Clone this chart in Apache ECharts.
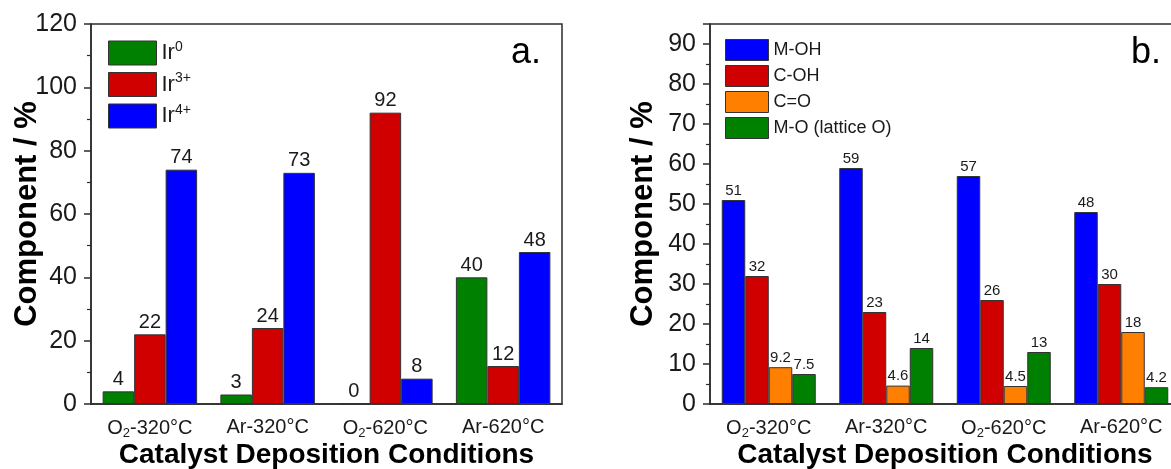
<!DOCTYPE html>
<html><head><meta charset="utf-8">
<script src="https://cdn.jsdelivr.net/npm/echarts@6/dist/echarts.min.js"></script>
<style>html,body{margin:0;padding:0;background:#fff}#c{width:1171px;height:469px}</style>
</head><body><div id="c"></div>
<script>
// ---- data ----
const categories = ['O2-320°C', 'Ar-320°C', 'O2-620°C', 'Ar-620°C'];
const irNames = ['Ir0', 'Ir3+', 'Ir4+'];
const ir0 = [4, 3, 0, 40];
const ir3 = [22, 24, 92, 12];
const ir4 = [74, 73, 8, 48];
const oNames = ['M-OH', 'C-OH', 'C=O', 'M-O (lattice O)'];
const mOH = [51, 59, 57, 48];
const cOH = [32, 23, 26, 30];
const cEqO = [9.2, 4.6, 4.5, 18];
const mO = [7.5, 14, 13, 4.2];
const yTicksA = [0, 20, 40, 60, 80, 100, 120];
const yTicksB = [0, 10, 20, 30, 40, 50, 60, 70, 80, 90];
const yMaxB = 95;
const xTitle = 'Catalyst Deposition Conditions';
const yTitle = 'Component / %';

// ---- styling ----
const FF = '"Liberation Sans", Arial, sans-serif';
const TXT = '#1a1a1a';
const AX = '#2b2b2b';
const cGreen = '#008000', cRed = '#D00000', cBlue = '#0000FF', cOrange = '#FF8000';

const catFmt = v => v.replace('O2', 'O{sub|2}');
const legFmt = n => n.replace(/^Ir(.+)$/, 'Ir{sup|$1}');

function yAxis(gi, ticks, max, gap) {
  return {
    type: 'value', gridIndex: gi, min: ticks[0], max: max,
    interval: ticks[1] - ticks[0],
    axisLine: { show: true, lineStyle: { color: AX, width: 1.5 } },
    axisTick: { show: true, inside: false, length: 7, lineStyle: { color: AX, width: 1.5 } },
    minorTick: { show: true, splitNumber: 2, length: 4, lineStyle: { color: AX, width: 1.2 } },
    splitLine: { show: false },
    axisLabel: {
      fontSize: 25, color: TXT, fontFamily: FF, margin: 14,
      formatter: v => (ticks.indexOf(v) >= 0 ? String(v) : '')
    },
    name: yTitle, nameLocation: 'middle', nameGap: gap, nameMoveOverlap: false,
    nameTextStyle: { fontSize: 31, fontWeight: 'bold', color: '#000', fontFamily: FF }
  };
}
function xAxis(gi) {
  return {
    type: 'category', gridIndex: gi, data: categories,
    axisLine: { show: true, lineStyle: { color: AX, width: 1.5 } },
    axisTick: { show: false },
    axisLabel: {
      interval: 0,
      fontSize: 20, color: TXT, fontFamily: FF, margin: 13,
      formatter: catFmt,
      rich: { sub: { fontSize: 13, color: TXT, fontFamily: FF, padding: [10, 0, 0, 0] } }
    },
    name: xTitle, nameLocation: 'middle', nameGap: 37, nameMoveOverlap: false,
    nameTextStyle: { fontSize: 28, fontWeight: 'bold', color: '#000', fontFamily: FF }
  };
}
function bar(name, data, color, gi, bw, fs) {
  return {
    type: 'bar', name: name, data: data, xAxisIndex: gi, yAxisIndex: gi,
    barWidth: bw, barGap: '0%',
    itemStyle: { color: color, borderColor: '#333', borderWidth: 1 },
    label: { show: true, position: 'top', distance: 2, fontSize: fs, color: TXT, fontFamily: FF },
    emphasis: { disabled: true }
  };
}

const option = {
  animation: false,
  backgroundColor: '#fff',
  grid: [
    { left: 91, top: 24, width: 471, height: 380, outerBoundsMode: 'none', containLabel: false, show: true, borderColor: AX, borderWidth: 1.5, backgroundColor: 'transparent' },
    { left: 710, top: 24, width: 470, height: 380, outerBoundsMode: 'none', containLabel: false, show: true, borderColor: AX, borderWidth: 1.5, backgroundColor: 'transparent' }
  ],
  xAxis: [xAxis(0), xAxis(1)],
  yAxis: [yAxis(0, yTicksA, yTicksA[yTicksA.length - 1], 48), yAxis(1, yTicksB, yMaxB, 51)],
  legend: [
    {
      data: irNames, left: 103, top: 35, orient: 'vertical',
      itemWidth: 48, itemHeight: 24, itemGap: 6, itemStyle: { borderColor: '#333', borderWidth: 1 },
      icon: 'rect', formatter: legFmt,
      textStyle: { fontSize: 22, color: TXT, fontFamily: FF,
        rich: { sup: { fontSize: 14, color: TXT, fontFamily: FF, padding: [0, 0, 12, 0] } } }
    },
    {
      data: oNames, left: 720, top: 34, orient: 'vertical',
      itemWidth: 43, itemHeight: 21, itemGap: 4, itemStyle: { borderColor: '#333', borderWidth: 1 },
      icon: 'rect',
      textStyle: { fontSize: 18, color: TXT, fontFamily: FF }
    }
  ],
  graphic: [
    { type: 'text', left: 511, top: 35, style: { text: 'a.', fontSize: 36, fill: '#000', fontFamily: FF } },
    { type: 'text', left: 1131, top: 35, style: { text: 'b.', fontSize: 36, fill: '#000', fontFamily: FF } }
  ],
  series: [
    bar(irNames[0], ir0, cGreen, 0, 31.5, 20),
    bar(irNames[1], ir3, cRed, 0, 31.5, 20),
    bar(irNames[2], ir4, cBlue, 0, 31.5, 20),
    bar(oNames[0], mOH, cBlue, 1, 23.5, 15),
    bar(oNames[1], cOH, cRed, 1, 23.5, 15),
    bar(oNames[2], cEqO, cOrange, 1, 23.5, 15),
    bar(oNames[3], mO, cGreen, 1, 23.5, 15)
  ]
};
const chart = echarts.init(document.getElementById('c'), null, { renderer: 'canvas' });
chart.setOption(option);
</script></body></html>
